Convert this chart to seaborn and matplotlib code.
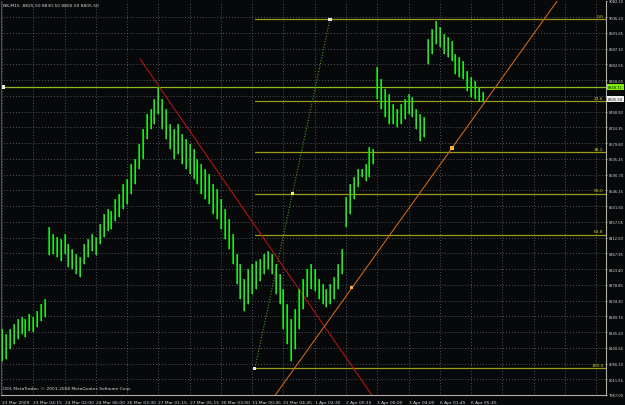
import numpy as np
import matplotlib
matplotlib.use("Agg")
import matplotlib.pyplot as plt
import matplotlib.transforms as mtransforms
import seaborn as sns
import pandas as pd

# ---------------- data ----------------
bar_highs = [8154, 8140, 8154, 8168, 8182, 8188, 8182, 8196, 8188, 8205, 8225, 8239,
             8442, 8423, 8414, 8408, 8423, 8394, 8380, 8366, 8358, 8394, 8408, 8423,
             8414, 8451, 8479, 8493, 8488, 8522, 8536, 8564, 8578, 8621, 8635, 8677,
             8720, 8762, 8776, 8805, 8839, 8805, 8776, 8734, 8720, 8734, 8706, 8691,
             8677, 8663, 8635, 8621, 8607, 8592, 8564, 8550, 8522, 8493, 8465, 8423,
             8366, 8338, 8295, 8324, 8338, 8346, 8352, 8366, 8375, 8366, 8338, 8309,
             8267, 8225, 8182, 8210, 8267, 8295, 8324, 8338, 8324, 8295, 8281, 8267,
             8281, 8301, 8338, 8380, 8527, 8564, 8584, 8607, 8607, 8621, 8669, 8663,
             8895, 8861, 8833, 8819, 8791, 8776, 8791, 8805, 8819, 8810, 8776, 8762,
             8754, 8974, 9003, 9025, 9008, 8989, 8980, 8969, 8932, 8924, 8912, 8884,
             8867, 8856, 8839, 8825]
bar_lows = [8063, 8069, 8097, 8111, 8125, 8140, 8131, 8148, 8145, 8159, 8176, 8188,
            8363, 8366, 8358, 8346, 8366, 8329, 8324, 8309, 8301, 8338, 8358, 8375,
            8363, 8394, 8414, 8431, 8437, 8459, 8471, 8493, 8508, 8536, 8564, 8607,
            8635, 8691, 8720, 8734, 8762, 8720, 8691, 8663, 8635, 8649, 8621, 8607,
            8592, 8578, 8564, 8536, 8522, 8508, 8479, 8465, 8437, 8408, 8380, 8338,
            8281, 8239, 8205, 8225, 8253, 8267, 8290, 8309, 8324, 8309, 8253, 8225,
            8154, 8111, 8063, 8097, 8154, 8210, 8244, 8267, 8261, 8239, 8225, 8216,
            8225, 8239, 8267, 8309, 8442, 8479, 8522, 8556, 8584, 8573, 8584, 8621,
            8805, 8776, 8754, 8734, 8734, 8725, 8734, 8748, 8762, 8754, 8720, 8686,
            8697, 8904, 8932, 8960, 8952, 8932, 8924, 8912, 8875, 8867, 8861, 8827,
            8810, 8805, 8799, 8796]

date_labels = ["23 Mar 2009", "23 Mar 04:15", "24 Mar 02:00", "24 Mar 06:00",
               "26 Mar 03:30", "27 Mar 01:15", "27 Mar 05:15", "30 Mar 03:00",
               "31 Mar 00:45", "31 Mar 04:45", "1 Apr 02:30", "2 Apr 00:15",
               "3 Apr 00:00", "3 Apr 04:00", "6 Apr 01:45", "6 Apr 05:45"]
bars_per_label = 8

price_ticks = [7967.00, 8011.55, 8056.10, 8100.65, 8145.20, 8189.75, 8234.30,
               8278.85, 8323.40, 8367.95, 8412.50, 8457.05, 8501.60, 8546.15,
               8590.70, 8635.25, 8679.80, 8724.35, 8768.90, 8813.45, 8858.00,
               8902.55, 8947.10, 8991.65, 9036.20, 9082.10]
price_min, price_max = 7967.00, 9082.10

# Fibonacci retracement
fib_low, fib_high = 8043.0, 9031.0
fib_levels = [0.0, 23.6, 38.2, 50.0, 61.8, 100.0]
fib_label_text = ["0.0", "23.6", "38.2", "50.0", "61.8", "100.0"]
fib_start_bar, fib_end_bar = 64.7, 83.9

# other objects
hline_price = 8838.71
bid_price = 8805.50
red_line = ([35.3, 94.6], [8918.0, 7967.0])
orange_pts = ([89.5, 115.1], [8270.0, 8666.0])

title_text = "NK,M15  8825.50 8830.50 8800.50 8805.50"
copyright_text = "ODL MetaTrader, \u00a9 2001-2008 MetaQuotes Software Corp."

# ---------------- style ----------------
sns.set_style("dark")
plt.rcParams['font.family'] = ['DejaVu Sans']
BG = '#060809'
FG = '#d8d8d8'
FS = 3.2
FSY = 2.65

fig = plt.figure(figsize=(6.25, 4.06), dpi=100, facecolor=BG)
ax = fig.add_axes([1 / 625, 10 / 406, 605 / 625, 394 / 406])
ax.set_facecolor(BG)

n = len(bar_highs)
x = np.arange(n)
xmax = 154.5
ax.set_xlim(-0.26, xmax)
ax.set_ylim(price_min, price_max)

# grid
grid_kw = dict(color='#66707a', lw=0.6, linestyle=(0, (1, 2.5)), zorder=0)
xt = np.arange(0, xmax, bars_per_label)
for v in xt:
    ax.axvline(v, **grid_kw)
for v in price_ticks[:-1]:
    ax.axhline(v, **grid_kw)

# candles (high-low bars)
ax.vlines(x, bar_lows, bar_highs, color='#00c800', lw=1.2, zorder=3)
ax.vlines(x, bar_lows, bar_highs, color='#50ff50', lw=0.45, zorder=3)

# horizontal line
ax.axhline(hline_price, color='#8cba1e', lw=0.9, zorder=2)

# fibonacci
fib_prices = [fib_high - (fib_high - fib_low) * lv / 100.0 for lv in fib_levels]
for p, t in zip(fib_prices, fib_label_text):
    ax.plot([fib_start_bar, xmax], [p, p], color='#9c9a1c', lw=0.9, zorder=2)
    ax.text(xmax - 0.6, p + 4, t, color='#d8d020', fontsize=FS, ha='right',
            va='bottom', zorder=4)
ax.plot([fib_start_bar, fib_end_bar], [fib_low, fib_high], color='#4a9a20',
        lw=0.8, linestyle=(0, (1, 1.5)), zorder=2)

# red trend line
ax.plot(red_line[0], red_line[1], color='#b01515', lw=0.8, zorder=2)

# orange trend line (through two anchors, extended)
ax.axline((orange_pts[0][0], orange_pts[1][0]), (orange_pts[0][1], orange_pts[1][1]),
          color='#c8641e', lw=0.8, zorder=2)

# markers
mk = pd.DataFrame({
    'x': [orange_pts[0][0], orange_pts[0][1], (fib_start_bar + fib_end_bar) / 2,
          fib_start_bar, fib_end_bar, 0.3],
    'y': [orange_pts[1][0], orange_pts[1][1], (fib_low + fib_high) / 2,
          fib_low, fib_high, hline_price],
    'kind': ['o', 'o', 'f', 'w', 'w', 'w'],
})
sns.scatterplot(data=mk, x='x', y='y', hue='kind', marker='s', s=5, linewidth=0,
                palette={'o': '#ffb040', 'f': '#f0f060', 'w': '#e8e8e8'},
                legend=False, ax=ax, zorder=5, clip_on=False)

# axes cosmetics
ax.spines['top'].set_visible(False)
for s in ['left', 'bottom', 'right']:
    ax.spines[s].set_color('#b0b0a8')
    ax.spines[s].set_linewidth(0.8)
ax.spines['left'].set_color('#505050')

ax.yaxis.tick_right()
ax.set_yticks(price_ticks)
ylabels = ["%.2f" % v for v in price_ticks]
ylabels[price_ticks.index(8813.45)] = ""
ax.set_yticklabels(ylabels)
ax.set_xticks(xt[:len(date_labels)])
ax.set_xticklabels(date_labels)
for lab in ax.get_xticklabels():
    lab.set_horizontalalignment('left')
ax.tick_params(axis='y', colors=FG, labelsize=FSY, length=1.0, width=0.5, pad=0.8,
               labelcolor=FG)
ax.tick_params(axis='x', colors=FG, labelsize=FS, length=2, width=0.5, pad=1.5,
               labelcolor=FG)
ax.set_xlabel('')
ax.set_ylabel('')

trans = mtransforms.blended_transform_factory(ax.transAxes, ax.transData)
ax.text(1.003, hline_price, "%.2f" % hline_price, transform=trans, fontsize=FSY,
        color='#101010', va='center', ha='left', zorder=6, clip_on=False,
        bbox=dict(boxstyle='square,pad=0.3', fc='#7cf000', ec='none'))
ax.text(1.003, bid_price, "%.2f" % bid_price, transform=trans, fontsize=FSY,
        color='#101010', va='center', ha='left', zorder=6, clip_on=False,
        bbox=dict(boxstyle='square,pad=0.3', fc='#f0f0f0', ec='none'))

ax.text(0.004, 0.994, title_text, transform=ax.transAxes, fontsize=FS, color=FG,
        va='top', ha='left', zorder=6)
ax.text(0.004, 0.012, copyright_text, transform=ax.transAxes, fontsize=FS,
        color=FG, va='bottom', ha='left', zorder=6)

fig.savefig("out.png", dpi=100, facecolor=BG)
